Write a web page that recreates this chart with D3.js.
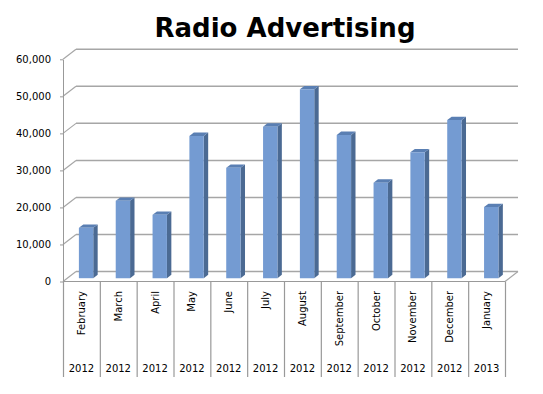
<!DOCTYPE html>
<html>
<head>
<meta charset="utf-8">
<script src="https://d3js.org/d3.v7.min.js"></script>
<style>
  body { margin: 0; background: #fff; }
  text { font-family: "DejaVu Sans", Verdana, sans-serif; }
</style>
</head>
<body>
<script>
var chartWidth = 543;
var chartHeight = 394;

var months = ["February", "March", "April", "May", "June", "July", "August",
    "September", "October", "November", "December", "January"];
var years = ["2012", "2012", "2012", "2012", "2012", "2012", "2012",
    "2012", "2012", "2012", "2012", "2013"];
var adSpend = [13600, 20900, 17100, 38400, 29800, 40900, 51000,
    38700, 25800, 34000, 42700, 19200];
var yTicks = [0, 10000, 20000, 30000, 40000, 50000, 60000];

// depth of the 3d box (back wall offset)
var depthX = 13;
var depthY = 10;
// bars sit in the middle third of the depth
var barZ0 = 0.33;
var barZ1 = 0.67;

var svg = d3.select('body')
    .append('svg')
    .attr('width', chartWidth)
    .attr('height', chartHeight)
    .style('display', 'block')
    .style('background-color', 'white');

var x = d3.scaleBand()
    .domain(d3.range(months.length))
    .range([63, 505]);

var y = d3.scaleLinear()
    .domain([0, 60000])
    .range([281.5, 59.3]);

function pt(px, py, z) {
    return [px + z * depthX, py - z * depthY];
}

// title
svg.append('text')
    .attr('x', 285)
    .attr('y', 37)
    .attr('text-anchor', 'middle')
    .attr('font-size', '26px')
    .attr('font-weight', 'bold')
    .attr('fill', 'black')
    .text('Radio Advertising');

var gridColor = '#a6a6a6';

// back wall gridlines + diagonals to the front axis
var grid = svg.append('g');
grid.selectAll('line.back')
    .data(yTicks)
    .join('line')
    .attr('class', 'back')
    .attr('x1', 63 + depthX)
    .attr('x2', 505 + depthX)
    .attr('y1', d => y(d) - depthY)
    .attr('y2', d => y(d) - depthY)
    .attr('stroke', gridColor)
    .attr('stroke-width', 1.5);

grid.selectAll('line.diag')
    .data(yTicks)
    .join('line')
    .attr('class', 'diag')
    .attr('x1', 63)
    .attr('y1', d => y(d))
    .attr('x2', 63 + depthX)
    .attr('y2', d => y(d) - depthY)
    .attr('stroke', gridColor)
    .attr('stroke-width', 1.2);

// floor front edge and right diagonal
grid.append('line')
    .attr('x1', 63).attr('x2', 505)
    .attr('y1', y(0)).attr('y2', y(0))
    .attr('stroke', '#999')
    .attr('stroke-width', 1.2);
grid.append('line')
    .attr('x1', 505).attr('y1', y(0))
    .attr('x2', 505 + depthX).attr('y2', y(0) - depthY)
    .attr('stroke', gridColor)
    .attr('stroke-width', 1.2);

// y axis
var yAxis = svg.append('g')
    .attr('transform', 'translate(63,0)')
    .call(d3.axisLeft(y)
        .tickValues(yTicks)
        .tickFormat(d3.format(','))
        .tickSize(3)
        .tickSizeOuter(0)
        .tickPadding(9));
yAxis.selectAll('path, line').attr('stroke', '#999');
yAxis.selectAll('text')
    .attr('font-size', '10px')
    .attr('font-family', '"DejaVu Sans", Verdana, sans-serif')
    .attr('fill', 'black');

// bars
var bw = x.bandwidth() * 0.39;
var bars = svg.append('g')
    .selectAll('g')
    .data(adSpend)
    .join('g');

bars.each(function(v, i) {
    var g = d3.select(this);
    var x0 = x(i) + x.bandwidth() * 0.315;
    var x1 = x0 + bw;
    var top = y(v);
    var base = y(0);

    var f = [pt(x0, top, barZ0), pt(x1, top, barZ0), pt(x1, base, barZ0), pt(x0, base, barZ0)];
    var side = [pt(x1, top, barZ0), pt(x1, top, barZ1), pt(x1, base, barZ1), pt(x1, base, barZ0)];
    var lid = [pt(x0, top, barZ0), pt(x1, top, barZ0), pt(x1, top, barZ1), pt(x0, top, barZ1)];

    g.append('polygon').attr('points', side.join(' ')).attr('fill', '#4b6a93');
    g.append('polygon').attr('points', lid.join(' ')).attr('fill', '#5a7fb3');
    g.append('polygon').attr('points', f.join(' ')).attr('fill', '#749bd2');
});

// category dividers
svg.append('g')
    .selectAll('line')
    .data(d3.range(months.length + 1))
    .join('line')
    .attr('x1', d => 63.5 + d * x.step())
    .attr('x2', d => 63.5 + d * x.step())
    .attr('y1', y(0))
    .attr('y2', 377)
    .attr('stroke', '#999')
    .attr('stroke-width', 1.2);

// month labels (rotated)
svg.append('g')
    .selectAll('text')
    .data(months)
    .join('text')
    .attr('transform', (d, i) => 'translate(' + (x(i) + x.bandwidth() / 2) + ',291) rotate(-90)')
    .attr('dy', '0.35em')
    .attr('text-anchor', 'end')
    .attr('font-size', '10px')
    .attr('fill', 'black')
    .text(d => d);

// year labels
svg.append('g')
    .selectAll('text')
    .data(years)
    .join('text')
    .attr('x', (d, i) => x(i) + x.bandwidth() / 2)
    .attr('y', 372)
    .attr('text-anchor', 'middle')
    .attr('font-size', '10px')
    .attr('fill', 'black')
    .text(d => d);
</script>
</body>
</html>
